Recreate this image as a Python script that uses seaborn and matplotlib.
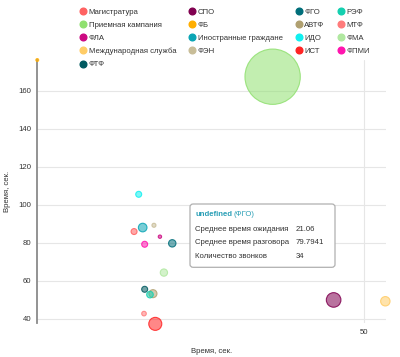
import numpy as np
import pandas as pd
import seaborn as sns
import matplotlib
matplotlib.use("Agg")
import matplotlib.pyplot as plt
from matplotlib.lines import Line2D
from matplotlib.patches import FancyBboxPatch

# ---- data ----
names = ["Магистратура", "Приемная кампания", "ФЛА", "Международная служба", "ФТФ",
         "СПО", "ФБ", "Иностранные граждане", "ФЭН",
         "ФГО", "АВТФ", "ИДО", "ИСТ",
         "РЭФ", "МТФ", "ФМА", "ФПМИ"]
wait_time = [15.3, 36.2, 19.2, 53.2, 16.9,
             45.4, 0.7, 16.6, 18.3,
             21.06, 18.15, 16.0, 18.5,
             17.7, 16.8, 19.8, 16.9]
talk_time = [86.0, 167.5, 83.3, 49.3, 55.6,
             50.0, 176.3, 88.1, 89.3,
             79.7941, 53.3, 105.6, 37.4,
             52.8, 42.8, 64.4, 79.3]
calls = [22, 1900, 7, 55, 22,
         132, 5, 46, 10,
         34, 40, 22, 105,
         27, 13, 33, 22]
colors = ["#ff6262", "#90e070", "#cc0a82", "#ffcc66", "#005a60",
          "#800050", "#ffae00", "#0aa5b5", "#c8bd98",
          "#006e7a", "#b0a070", "#10f0f0", "#ff2424",
          "#14d0b0", "#ff7b7b", "#b0e8a0", "#ff14ae"]
x_ticks = [50]
y_ticks = [40, 60, 80, 100, 120, 140, 160]

df = pd.DataFrame({"name": names, "wait": wait_time, "talk": talk_time, "calls": calls})
palette = dict(zip(names, colors))

sns.set_style("white")
plt.rcParams["font.family"] = ["Liberation Sans", "DejaVu Sans"]

fig = plt.figure(figsize=(4.0, 3.57), dpi=100)
ax = fig.add_axes([37/400, 1-323.3/357, (386-37)/400, (323.3-60)/357])

k = 0.835
sns.scatterplot(data=df, x="wait", y="talk", hue="name", palette=palette,
                size="calls", sizes=(k*min(calls), k*max(calls)),
                legend=False, ax=ax, clip_on=False, linewidth=0.8, zorder=3)

coll = ax.collections[0]
fc = coll.get_facecolors().copy()
ec = fc.copy()
fc[:, 3] = 0.55
ec[:, 3] = 0.85
coll.set_facecolors(fc)
coll.set_edgecolors(ec)

ax.set_xlim(0.66, 53.3)
ax.set_ylim(37.7, 176.3)
ax.set_xticks(x_ticks)
ax.set_yticks(y_ticks)
ax.grid(True, color="#e6e6e6", linewidth=0.8)
ax.set_axisbelow(True)
for s in ["top", "right", "bottom"]:
    ax.spines[s].set_visible(False)
ax.spines["left"].set_color("#8a8a8a")
ax.spines["left"].set_linewidth(1.3)
ax.tick_params(length=0, labelsize=5.6, labelcolor="#333333", pad=4)
ax.set_xlabel("Время, сек.", fontsize=5.6, color="#333333", labelpad=9)
ax.set_ylabel("Время, сек.", fontsize=5.6, color="#333333", labelpad=5)

# legend
handles = [Line2D([0], [0], marker="o", linestyle="", markersize=4.8,
                  markerfacecolor=c, markeredgecolor=c) for c in colors]
leg = fig.legend(handles, names, ncol=4, loc="upper left",
                 bbox_to_anchor=(76.5/400, 1-4.5/357), frameon=False,
                 fontsize=5.6, handlelength=0.7, handletextpad=0.35,
                 columnspacing=1.72, labelspacing=0.73, borderpad=0)
for t in leg.get_texts():
    t.set_color("#333333")

# tooltip
box = FancyBboxPatch((190/400, 1-267.3/357), 145/400, 63.3/357,
                     boxstyle="round,pad=0,rounding_size=0.008",
                     transform=fig.transFigure, facecolor="white",
                     edgecolor="#b0b0b0", linewidth=0.9, zorder=10)
fig.patches.append(box)
fig.text(195.3/400, 1-215/357, "undefined", fontsize=5.6, color="#2a9fb6",
         weight="bold", va="center", zorder=11)
fig.text(234/400, 1-215/357, "(ФГО)", fontsize=5.6, color="#2a9fb6",
         va="center", zorder=11)
rows = [("Среднее время ожидания", "21.06", 229.5),
        ("Среднее время разговора", "79.7941", 242.5),
        ("Количество звонков", "34", 256)]
for lab, val, yy in rows:
    fig.text(195.3/400, 1-yy/357, lab, fontsize=5.6, color="#333333",
             va="center", zorder=11)
    fig.text(295.7/400, 1-yy/357, val, fontsize=5.6, color="#333333",
             va="center", zorder=11)

fig.savefig("out.png", dpi=100)
